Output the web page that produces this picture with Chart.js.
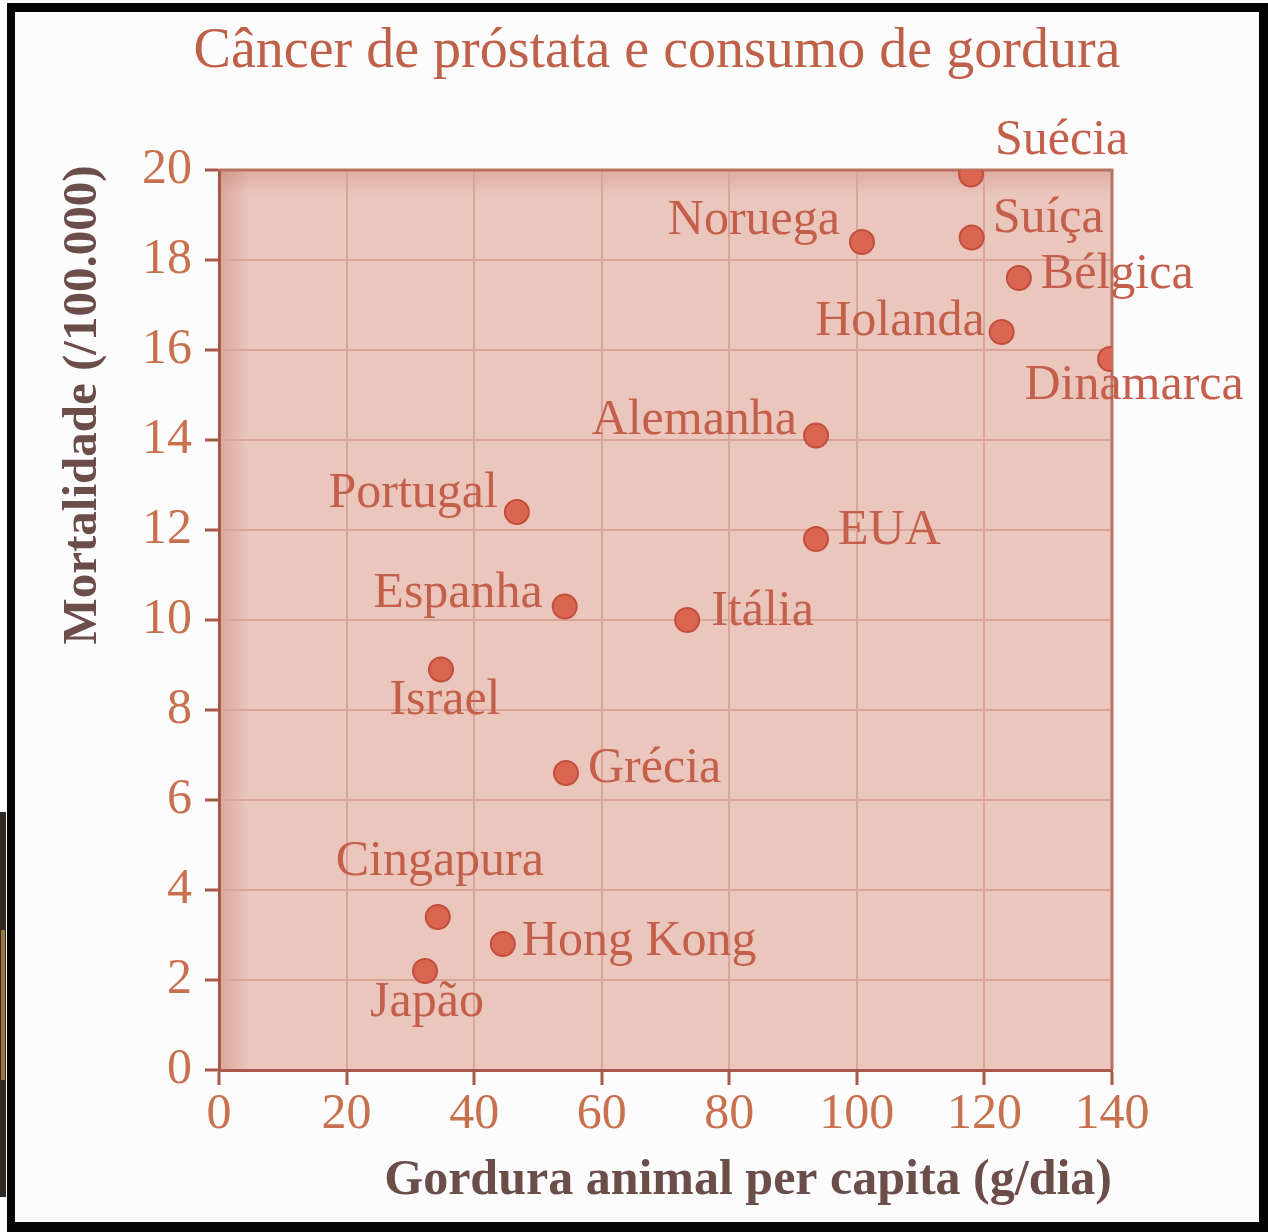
<!DOCTYPE html>
<html>
<head>
<meta charset="utf-8">
<script src="https://cdn.jsdelivr.net/npm/chart.js@4/dist/chart.umd.min.js"></script>
<style>
  html, body { margin: 0; padding: 0; background: #fdfcfc; }
  #wrap { position: relative; width: 1268px; height: 1232px; }
  canvas { display: block; }
</style>
</head>
<body>
<div id="wrap"><canvas id="c" width="1268" height="1232"></canvas></div>
<script>
// ---- data ----
const countries = ['Suécia','Noruega','Suíça','Bélgica','Holanda','Dinamarca','Alemanha','Portugal','EUA','Espanha','Itália','Israel','Grécia','Cingapura','Hong Kong','Japão'];
const fatPerCapita = [117.9, 100.8, 118.0, 125.4, 122.7, 139.7, 93.6, 46.7, 93.6, 54.2, 73.4, 34.8, 54.4, 34.3, 44.5, 32.3];
const mortality = [19.9, 18.4, 18.5, 17.6, 16.4, 15.8, 14.1, 12.4, 11.8, 10.3, 10.0, 8.9, 6.6, 3.4, 2.8, 2.2];
const xTickValues = [0, 20, 40, 60, 80, 100, 120, 140];
const yTickValues = [0, 2, 4, 6, 8, 10, 12, 14, 16, 18, 20];
const titleText = 'Câncer de próstata e consumo de gordura';
const xTitle = 'Gordura animal per capita (g/dia)';
const yTitle = 'Mortalidade (/100.000)';

// ---- label placement (style only): [textAlign, dx, dy] relative to point ----
const labelPlacement = {
  'Suécia': ['left', 24, -21],
  'Noruega': ['right', -22, -8],
  'Suíça': ['left', 21, -6],
  'Bélgica': ['left', 22, 10],
  'Holanda': ['right', -17, 3],
  'Dinamarca': ['center', 24, 40],
  'Alemanha': ['right', -19, -2],
  'Portugal': ['right', -19, -5],
  'EUA': ['left', 22, 5],
  'Espanha': ['right', -22, 0],
  'Itália': ['left', 24, 5],
  'Israel': ['center', 4, 44],
  'Grécia': ['left', 22, 9],
  'Cingapura': ['center', 2, -42],
  'Hong Kong': ['left', 19, 11],
  'Japão': ['center', 2, 45]
};

const SERIF = '"Liberation Serif", "Times New Roman", serif';
const COL_TITLE = '#bf6049';
const COL_TICK = '#c8714f';
const COL_LABEL = '#c35f4a';
const COL_AXIS_TITLE = '#6b4d4a';
const COL_PLOT = '#eac6bd';
const COL_GRID = '#d8a598';
const COL_AXIS = '#a9594a';

const decor = {
  id: 'decor',
  beforeDraw(chart) {
    const {ctx, chartArea: a} = chart;
    ctx.save();
    ctx.fillStyle = COL_PLOT;
    ctx.fillRect(a.left, a.top, a.right - a.left, a.bottom - a.top);
    // soft darker edge inside the plot
    const g1 = ctx.createLinearGradient(a.left, 0, a.left + 30, 0);
    g1.addColorStop(0, 'rgba(190,110,95,0.35)');
    g1.addColorStop(1, 'rgba(190,110,95,0)');
    ctx.fillStyle = g1;
    ctx.fillRect(a.left, a.top, 30, a.bottom - a.top);
    const g2 = ctx.createLinearGradient(0, a.top, 0, a.top + 25);
    g2.addColorStop(0, 'rgba(190,110,95,0.3)');
    g2.addColorStop(1, 'rgba(190,110,95,0)');
    ctx.fillStyle = g2;
    ctx.fillRect(a.left, a.top, a.right - a.left, 25);
    ctx.restore();
  },
  beforeDatasetsDraw(chart) {
    const {ctx, chartArea: a} = chart;
    ctx.save();
    ctx.strokeStyle = '#b87262';
    ctx.lineWidth = 3;
    ctx.beginPath();
    ctx.moveTo(a.left, a.top);
    ctx.lineTo(a.right, a.top);
    ctx.lineTo(a.right, a.bottom);
    ctx.stroke();
    ctx.restore();
  },
  afterDatasetsDraw(chart) {
    const {ctx} = chart;
    const meta = chart.getDatasetMeta(0);
    ctx.save();
    ctx.font = '50px ' + SERIF;
    ctx.fillStyle = COL_LABEL;
    ctx.textBaseline = 'alphabetic';
    meta.data.forEach((pt, i) => {
      const name = countries[i];
      const [align, dx, dy] = labelPlacement[name];
      ctx.textAlign = align;
      ctx.fillText(name, pt.x + dx, pt.y + dy);
    });
    ctx.restore();
  },
  afterDraw(chart) {
    const {ctx, width: W, height: H} = chart;
    ctx.save();
    // chart title
    ctx.font = '56px ' + SERIF;
    ctx.fillStyle = COL_TITLE;
    ctx.textAlign = 'center';
    ctx.textBaseline = 'alphabetic';
    ctx.fillText(titleText, 657, 67);
    // y axis title
    ctx.translate(96, 405);
    ctx.rotate(-Math.PI / 2);
    ctx.font = 'bold 49px ' + SERIF;
    ctx.fillStyle = COL_AXIS_TITLE;
    ctx.textAlign = 'center';
    ctx.fillText(yTitle, 0, 0);
    ctx.restore();
    // black frame
    ctx.save();
    ctx.fillStyle = '#050505';
    ctx.fillRect(7, 3, W - 7, 9);       // top
    ctx.fillRect(7, 3, 8, H - 3);       // left
    ctx.fillRect(W - 9, 3, 9, H - 3);   // right
    ctx.fillRect(7, H - 10, W - 7, 10); // bottom
    ctx.fillStyle = '#2e2722';
    ctx.fillRect(0, 812, 6, 385);
    ctx.fillStyle = '#9a7a3a';
    ctx.fillRect(1, 930, 4, 150);
    ctx.restore();
  }
};

const points = fatPerCapita.map((x, i) => ({x: x, y: mortality[i]}));

new Chart(document.getElementById('c'), {
  type: 'scatter',
  data: {
    datasets: [{
      label: 'Países',
      data: points,
      pointRadius: 12,
      pointBorderWidth: 2,
      pointBackgroundColor: '#da6651',
      pointBorderColor: '#c24f3c',
      pointHoverRadius: 12
    }]
  },
  options: {
    responsive: false,
    animation: false,
    devicePixelRatio: 1,
    layout: { padding: { top: 170, right: 156, bottom: 26, left: 0 } },
    plugins: { legend: { display: false }, tooltip: { enabled: false }, title: { display: false } },
    scales: {
      x: {
        type: 'linear',
        min: 0, max: 140,
        afterBuildTicks: (s) => { s.ticks = xTickValues.map(v => ({value: v})); },
        afterFit: (s) => { s.height = 136; },
        ticks: { color: COL_TICK, padding: 5, font: { family: SERIF, size: 50, lineHeight: 1 }, maxRotation: 0 },
        grid: { color: COL_GRID, lineWidth: 2, tickLength: 15, tickColor: COL_AXIS, tickWidth: 3 },
        border: { display: true, color: COL_AXIS, width: 3 },
        title: {
          display: true, text: xTitle, align: 'end', color: COL_AXIS_TITLE,
          font: { family: SERIF, size: 50, weight: 'bold', lineHeight: 1 },
          padding: { top: 0, bottom: 0 }
        }
      },
      y: {
        type: 'linear',
        min: 0, max: 20,
        afterBuildTicks: (s) => { s.ticks = yTickValues.map(v => ({value: v})); },
        afterFit: (s) => { s.width = 219; },
        ticks: { color: COL_TICK, padding: 13, font: { family: SERIF, size: 50, lineHeight: 1 } },
        grid: { color: COL_GRID, lineWidth: 2, tickLength: 14, tickColor: COL_AXIS, tickWidth: 3 },
        border: { display: true, color: COL_AXIS, width: 3 }
      }
    }
  },
  plugins: [decor]
});
</script>
</body>
</html>
